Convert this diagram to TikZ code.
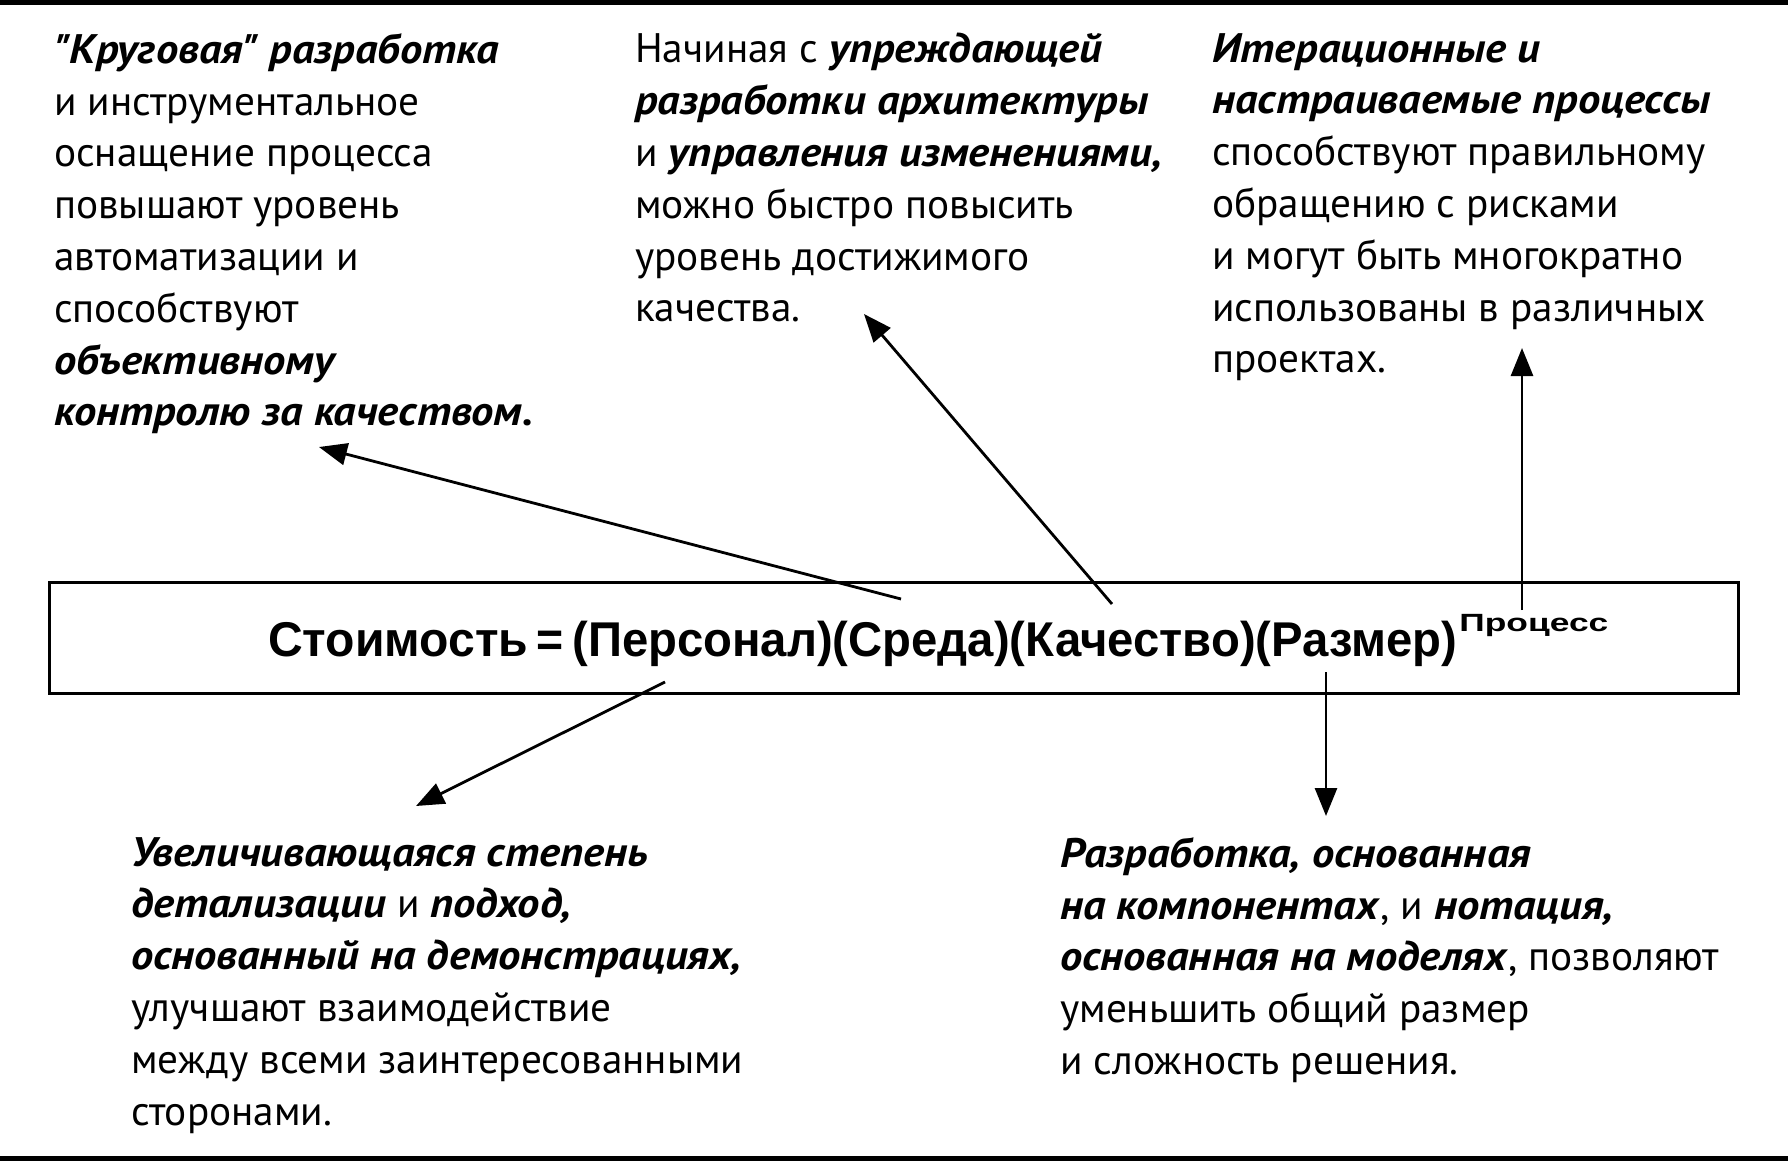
\documentclass[tikz,border=0pt]{standalone}
\usepackage{fontspec}
\setmainfont{PT Sans}[Ligatures=TeXOff, BoldItalicFeatures={FakeStretch=1.08}]
\newfontfamily\formulafamily{Liberation Sans}
\usepackage{tikz}
\usetikzlibrary{arrows.meta,positioning}

\newcommand{\kp}[1]{\textbf{\textit{#1}}}
\newcommand{\notesize}{\fontsize{41.4}{52}\selectfont}

\tikzset{
  note/.style={anchor=north west, inner sep=0pt, align=left, font=\notesize},
  pointer/.style={-{Triangle[length=28bp,width=22bp]}, line width=2.8bp},
  rule/.style={line width=5bp}
}

\begin{document}
\begin{tikzpicture}[x=1bp, y=-1bp]
\useasboundingbox (0,0) rectangle (1788,1163);
% page rules
\draw[rule] (0,2.5) -- (1788,2.5);
\draw[rule] (0,1158.5) -- (1788,1158.5);

% the cost model
\node[draw, line width=3bp, minimum width=1688bp, minimum height=111bp, inner sep=0pt] (box) at (894,637.5) {};
\node[anchor=base west, inner sep=0pt, font=\formulafamily\bfseries\fontsize{49}{49}\selectfont] (cost) at (268,656)
  {\scalebox{0.985}[1]{Стоимость}\kern8bp\scalebox{0.95}[1]{=}\kern9bp\scalebox{0.968}[1]{(Персонал)(Среда)(Качество)(Размер)}\kern2bp\raisebox{25bp}{\fontsize{25}{25}\selectfont\scalebox{1.42}[1]{Процесс}}};

% notes
\node[note] (cyclic) at (54,33) {\kp{"Круговая" разработка}\\
  и инструментальное\\
  оснащение процесса\\
  повышают уровень\\
  автоматизации и\\
  способствуют\\
  \kp{объективному}\\
  \kp{контролю за качеством.}};
\node[note] (arch) at (635,33) {Начиная с \kp{упреждающей}\\
  \kp{разработки архитектуры}\\
  и \kp{управления изменениями,}\\
  можно быстро повысить\\
  уровень достижимого\\
  качества.};
\node[note] (iter) at (1212,33) {\kp{Итерационные и}\\
  \kp{настраиваемые процессы}\\
  способствуют правильному\\
  обращению с рисками\\
  и могут быть многократно\\
  использованы в различных\\
  проектах.};
\node[note] (demo) at (131,837) {\kp{Увеличивающаяся степень}\\
  \kp{детализации} и \kp{подход,}\\
  \kp{основанный на демонстрациях,}\\
  улучшают взаимодействие\\
  между всеми заинтересованными\\
  сторонами.};
\node[note] (comp) at (1060,837) {\kp{Разработка, основанная}\\
  \kp{на компонентах}, и \kp{нотация,}\\
  \kp{основанная на моделях}, позволяют\\
  уменьшить общий размер\\
  и сложность решения.};

% arrow ends
\coordinate (fromPers) at (665,682);
\coordinate (fromEnv) at (901,599);
\coordinate (fromQual) at (1112,604);
\coordinate (fromSize) at (1326,672);
\coordinate (fromProc) at (1522,610);
\coordinate (toCyclic) at (319,447);
\coordinate (toArch) at (864,314);
\coordinate (toIter) at (1522,348);
\coordinate (toDemo) at (416,806);
\coordinate (toComp) at (1326,816);

\draw[pointer] (fromEnv) -- (toCyclic);
\draw[pointer] (fromQual) -- (toArch);
\draw[pointer] (fromProc) -- (toIter);
\draw[pointer] (fromPers) -- (toDemo);
\draw[pointer] (fromSize) -- (toComp);
\end{tikzpicture}
\end{document}
